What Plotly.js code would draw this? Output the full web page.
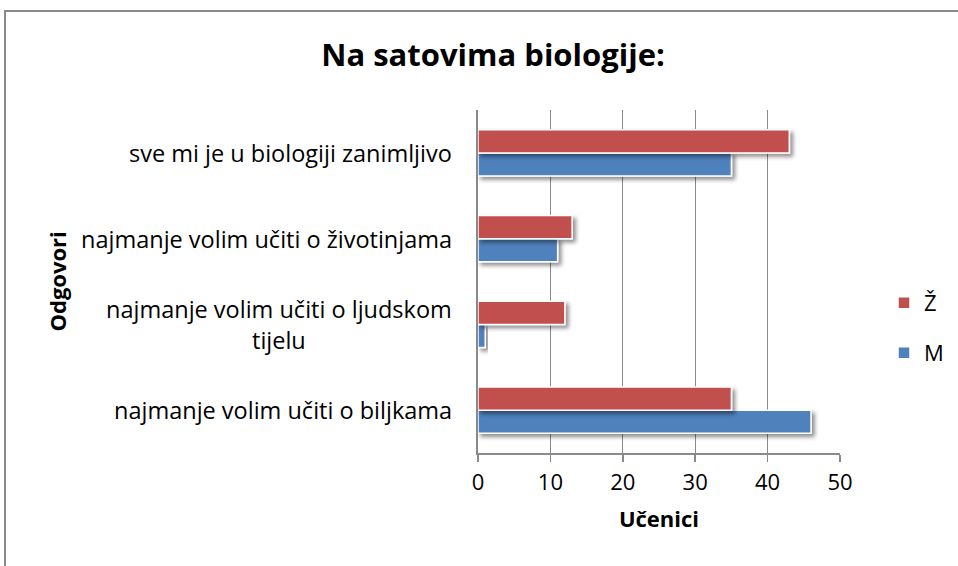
<!DOCTYPE html>
<html>
<head>
<meta charset="utf-8">
<script src="https://cdn.plot.ly/plotly-3.0.1.min.js"></script>
<style>
  html, body { margin: 0; padding: 0; background: #fff; }
  #wrap { position: relative; width: 958px; height: 566px; overflow: hidden; }
  #chart { position: absolute; left: 0; top: 0; width: 958px; height: 566px; }
  #frame { position: absolute; left: 4px; top: 10px; width: 1000px; height: 600px;
           border-left: 2px solid #8a8a8a; border-top: 2px solid #8a8a8a; pointer-events: none; }
  .js-plotly-plot .barlayer .point path { filter: url(#sh); }
</style>
</head>
<body>
<svg width="0" height="0" style="position:absolute">
  <defs>
    <filter id="sh" x="-20%" y="-30%" width="150%" height="180%">
      <feGaussianBlur in="SourceAlpha" stdDeviation="2"/>
      <feOffset dx="3" dy="3" result="ob"/>
      <feComponentTransfer><feFuncA type="linear" slope="0.45"/></feComponentTransfer>
      <feMerge><feMergeNode/><feMergeNode in="SourceGraphic"/></feMerge>
    </filter>
  </defs>
</svg>
<div id="wrap">
  <div id="chart"></div>
  <div id="frame"></div>
</div>
<script>
const categories = [
  "najmanje volim učiti o biljkama",
  "najmanje volim učiti o ljudskom<br>tijelu",
  "najmanje volim učiti o životinjama",
  "sve mi je u biologiji zanimljivo"
];
const seriesNames = ["M", "Ž"];
const valuesM = [46, 1, 11, 35];
const valuesZ = [35, 12, 13, 43];
const xTickVals = [0, 10, 20, 30, 40, 50];

const FONT = "'Open Sans', 'Liberation Sans', sans-serif";

const traces = [
  {
    type: "bar", orientation: "h", name: seriesNames[0],
    y: categories, x: valuesM, legend: "legend2",
    marker: { color: "#4F81BD", line: { color: "#ffffff", width: 1.5 } },
    hoverinfo: "x+y"
  },
  {
    type: "bar", orientation: "h", name: seriesNames[1],
    y: categories, x: valuesZ, legend: "legend",
    marker: { color: "#C0504D", line: { color: "#ffffff", width: 1.5 } },
    hoverinfo: "x+y"
  }
];

const annotations = categories.map(c => ({
  xref: "paper", yref: "y", x: 0, y: c, xanchor: "right", yanchor: "middle",
  xshift: -24, text: c, showarrow: false, align: "center",
  font: { family: FONT, size: 23.5, color: "#000" }
}));
annotations.push({
  xref: "paper", yref: "paper", x: 0, y: 0.5, xshift: -422, xanchor: "center", yanchor: "middle",
  text: "<b>Odgovori</b>", textangle: -90, showarrow: false,
  font: { family: FONT, size: 22, color: "#000" }
});

function legendAt(yCenter) {
  return {
    xref: "container", yref: "container",
    x: 884 / 958, y: 1 - yCenter / 566, xanchor: "left", yanchor: "middle",
    font: { family: FONT, size: 22, color: "#000" },
    bgcolor: "rgba(0,0,0,0)", itemwidth: 30
  };
}

const layout = {
  width: 958, height: 566,
  paper_bgcolor: "#ffffff", plot_bgcolor: "#ffffff",
  margin: { l: 477.5, r: 118, t: 110, b: 113 },
  barmode: "group", bargap: 0.46, bargroupgap: 0,
  title: {
    text: "<b>Na satovima biologije:</b>",
    font: { family: FONT, size: 31, color: "#000" },
    x: 493 / 958, xanchor: "center", y: 1 - 55 / 566, yanchor: "middle"
  },
  xaxis: {
    range: [0, 50], tickvals: xTickVals, ticktext: xTickVals.map(String),
    showgrid: true, gridcolor: "#8a8a8a", gridwidth: 1.3,
    showline: true, linecolor: "#8a8a8a", linewidth: 1.5,
    ticks: "outside", ticklen: 7, tickcolor: "#8a8a8a", tickwidth: 1.5,
    ticklabelstandoff: 2,
    tickfont: { family: FONT, size: 22, color: "#000" },
    zeroline: false, fixedrange: true,
    title: { text: "<b>Učenici</b>", font: { family: FONT, size: 22, color: "#000" }, standoff: 16 }
  },
  yaxis: {
    type: "category", categoryorder: "array", categoryarray: categories,
    range: [-0.5, 3.5],
    showgrid: false, showline: true, linecolor: "#8a8a8a", linewidth: 2,
    showticklabels: false, ticks: "", zeroline: false, fixedrange: true
  },
  legend: legendAt(303),
  legend2: legendAt(353),
  annotations: annotations,
  showlegend: true
};

Plotly.newPlot("chart", traces, layout, { displayModeBar: false, staticPlot: true });
</script>
</body>
</html>
